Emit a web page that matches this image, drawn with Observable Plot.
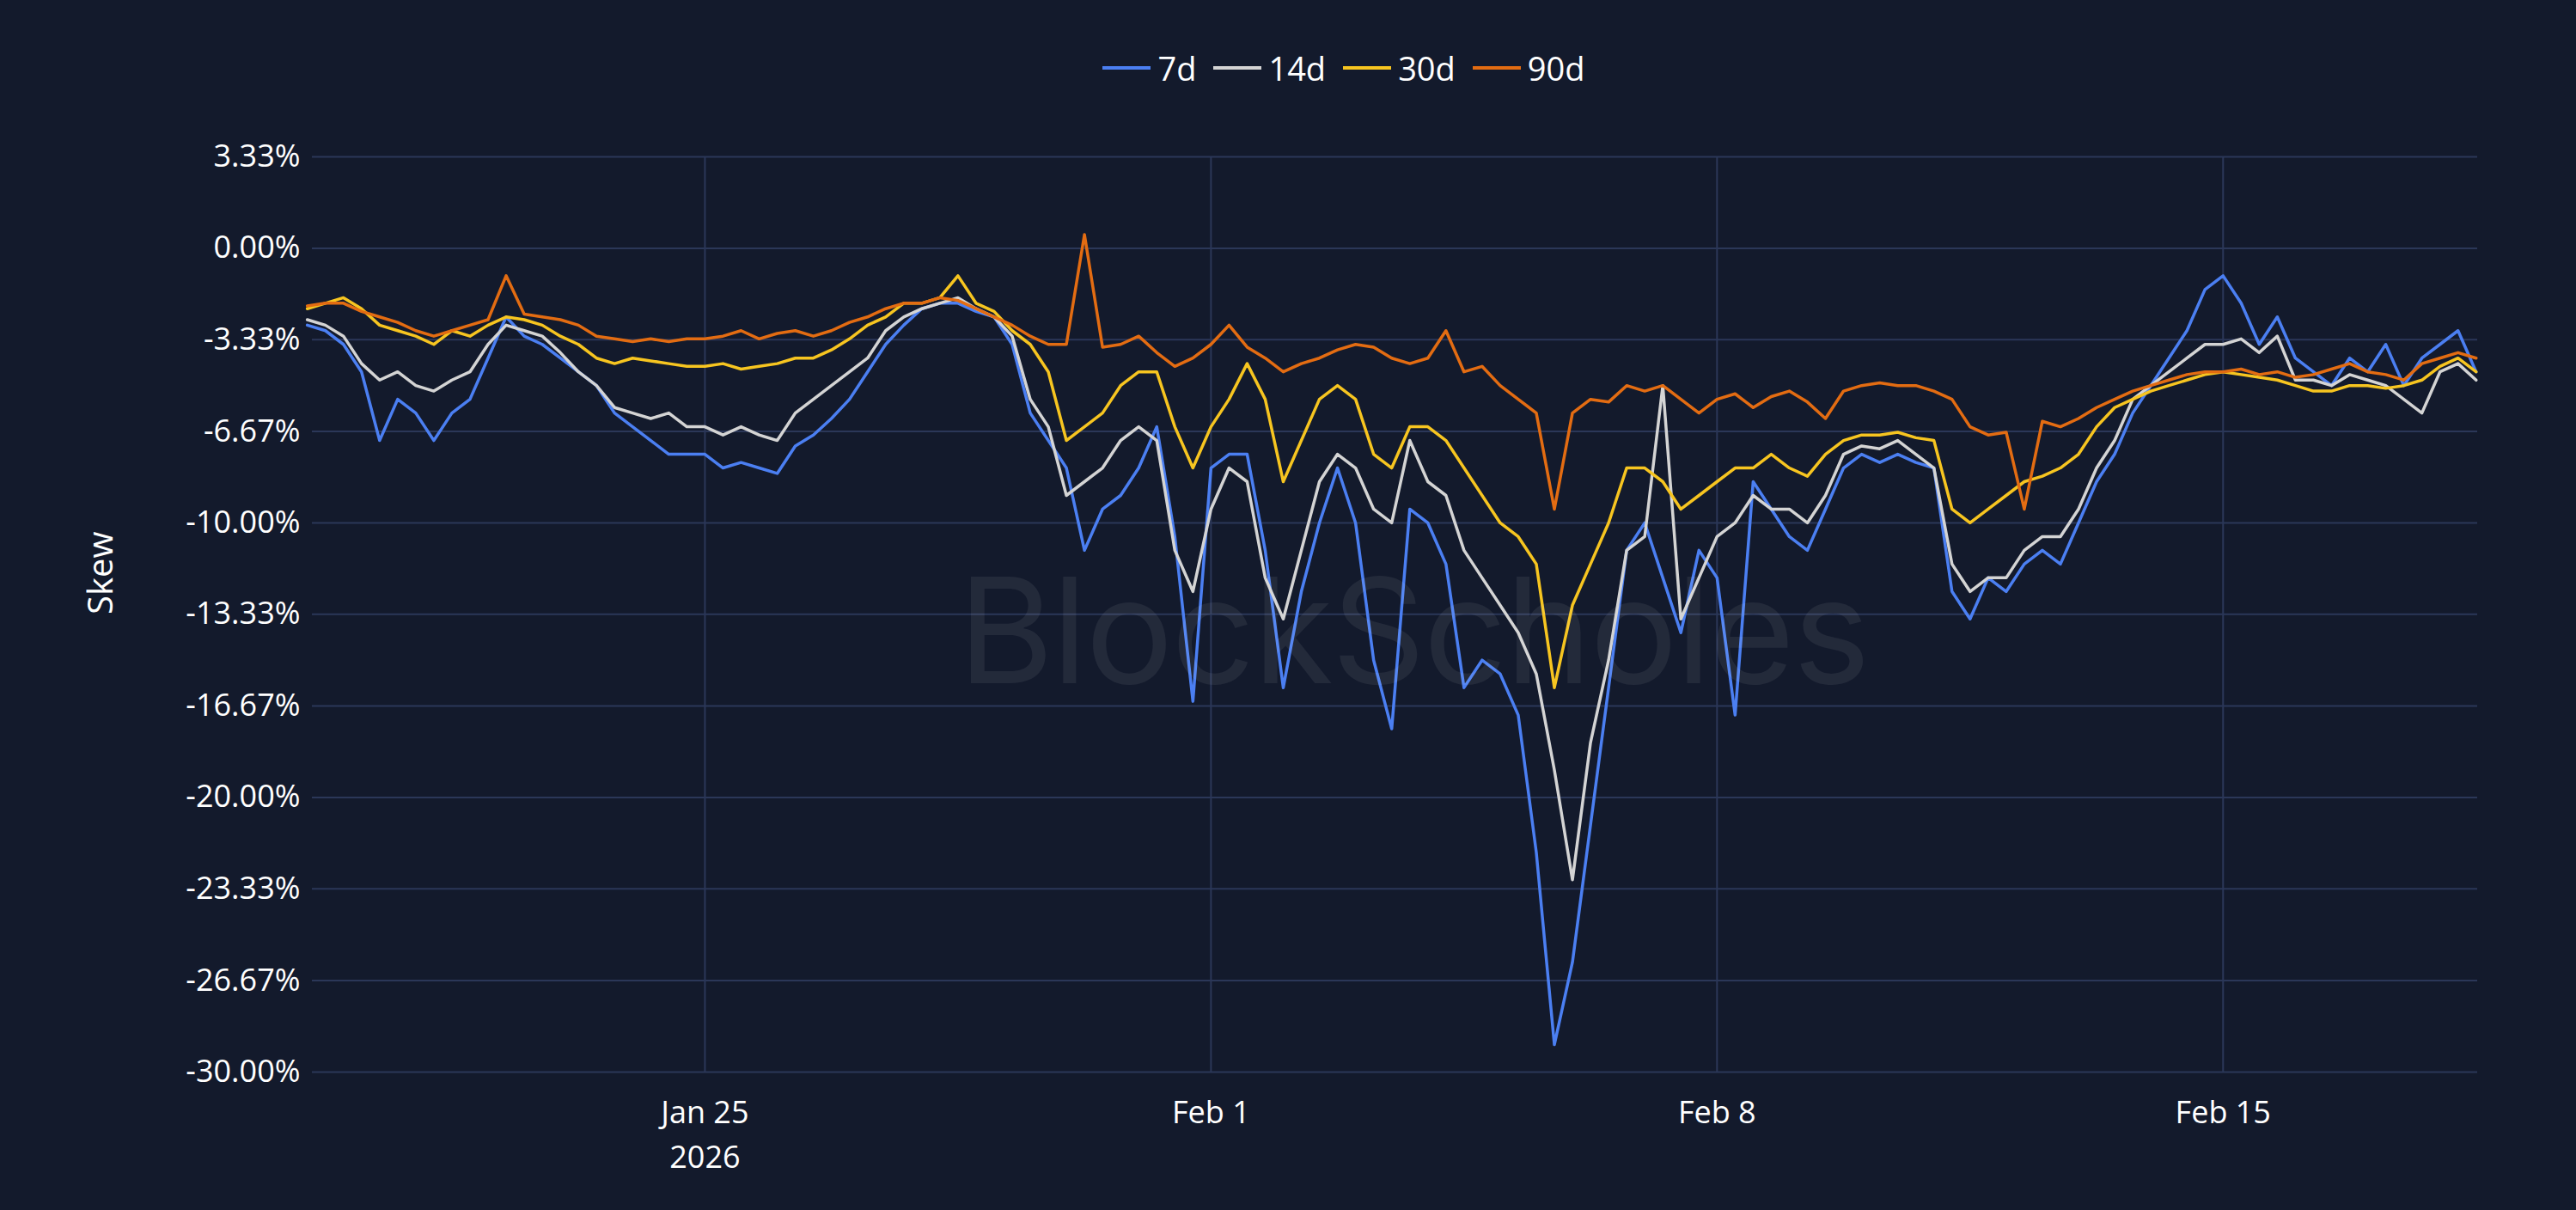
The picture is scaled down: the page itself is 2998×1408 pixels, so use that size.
<!DOCTYPE html>
<html><head><meta charset="utf-8">
<script src="https://cdn.jsdelivr.net/npm/d3@7"></script>
<script src="https://cdn.jsdelivr.net/npm/@observablehq/plot@0.6"></script>
<style>
html,body{margin:0;padding:0;background:#131a2c;width:2998px;height:1408px;overflow:hidden;font-family:"Open Sans",sans-serif;}
#legend{height:150px;display:flex;justify-content:center;align-items:center;gap:20px;color:#fff;font-size:38px;padding-left:130px;padding-top:8px;box-sizing:border-box}
#legend span{display:flex;align-items:center;gap:8px}
#legend i{display:inline-block;width:56px;height:4px}
#wm{position:absolute;left:1115px;top:630px;font-size:170px;color:rgba(255,255,255,0.07);font-family:Inter,sans-serif;letter-spacing:-2px}
</style></head>
<body>
<div id="legend"></div>
<div id="wm">BlockScholes</div>
<div id="chart"></div>
<script>
const seriesNames = ["7d","14d","30d","90d"];
const seriesColors = ["#4b7ff2","#d4d4d4","#f7c520","#e36c12"];
const startTime = "2026-01-19T12:00:00Z"; // 6-hourly samples
const s7d = [-2.8,-3.0,
-3.5,-4.5,-7.0,-5.5, -6.0,-7.0,-6.0,-5.5, -4.0,-2.5,-3.2,-3.5, -4.0,-4.5,-5.0,-6.0,
-6.5,-7.0,-7.5,-7.5, -7.5,-8.0,-7.8,-8.0, -8.2,-7.2,-6.8,-6.2, -5.5,-4.5,-3.5,-2.8,
-2.2,-2.0,-2.0,-2.3, -2.5,-3.5,-6.0,-7.0, -8.0,-11.0,-9.5,-9.0, -8.0,-6.5,-10.5,-16.5,
-8.0,-7.5,-7.5,-11.0, -16.0,-12.5,-10.0,-8.0, -10.0,-15.0,-17.5,-9.5, -10.0,-11.5,-16.0,-15.0,
-15.5,-17.0,-22.0,-29.0, -26.0,-21.0,-16.0,-11.0, -10.0,-12.0,-14.0,-11.0, -12.0,-17.0,-8.5,-9.5,
-10.5,-11.0,-9.5,-8.0, -7.5,-7.8,-7.5,-7.8, -8.0,-12.5,-13.5,-12.0, -12.5,-11.5,-11.0,-11.5,
-10.0,-8.5,-7.5,-6.0, -5.0,-4.0,-3.0,-1.5, -1.0,-2.0,-3.5,-2.5, -4.0,-4.5,-5.0,-4.0,
-4.5,-3.5,-5.0,-4.0, -3.5,-3.0,-4.5];
const s14d = [-2.6,-2.8,
-3.2,-4.2,-4.8,-4.5, -5.0,-5.2,-4.8,-4.5, -3.5,-2.8,-3.0,-3.2, -3.8,-4.5,-5.0,-5.8,
-6.0,-6.2,-6.0,-6.5, -6.5,-6.8,-6.5,-6.8, -7.0,-6.0,-5.5,-5.0, -4.5,-4.0,-3.0,-2.5,
-2.2,-2.0,-1.8,-2.2, -2.5,-3.2,-5.5,-6.5, -9.0,-8.5,-8.0,-7.0, -6.5,-7.0,-11.0,-12.5,
-9.5,-8.0,-8.5,-12.0, -13.5,-11.0,-8.5,-7.5, -8.0,-9.5,-10.0,-7.0, -8.5,-9.0,-11.0,-12.0,
-13.0,-14.0,-15.5,-19.0, -23.0,-18.0,-15.0,-11.0, -10.5,-5.0,-13.5,-12.0, -10.5,-10.0,-9.0,-9.5,
-9.5,-10.0,-9.0,-7.5, -7.2,-7.3,-7.0,-7.5, -8.0,-11.5,-12.5,-12.0, -12.0,-11.0,-10.5,-10.5,
-9.5,-8.0,-7.0,-5.5, -5.0,-4.5,-4.0,-3.5, -3.5,-3.3,-3.8,-3.2, -4.8,-4.8,-5.0,-4.6,
-4.8,-5.0,-5.5,-6.0, -4.5,-4.2,-4.8];
const s30d = [-2.2,-2.0,
-1.8,-2.2,-2.8,-3.0, -3.2,-3.5,-3.0,-3.2, -2.8,-2.5,-2.6,-2.8, -3.2,-3.5,-4.0,-4.2,
-4.0,-4.1,-4.2,-4.3, -4.3,-4.2,-4.4,-4.3, -4.2,-4.0,-4.0,-3.7, -3.3,-2.8,-2.5,-2.0,
-2.0,-1.8,-1.0,-2.0, -2.3,-3.0,-3.5,-4.5, -7.0,-6.5,-6.0,-5.0, -4.5,-4.5,-6.5,-8.0,
-6.5,-5.5,-4.2,-5.5, -8.5,-7.0,-5.5,-5.0, -5.5,-7.5,-8.0,-6.5, -6.5,-7.0,-8.0,-9.0,
-10.0,-10.5,-11.5,-16.0, -13.0,-11.5,-10.0,-8.0, -8.0,-8.5,-9.5,-9.0, -8.5,-8.0,-8.0,-7.5,
-8.0,-8.3,-7.5,-7.0, -6.8,-6.8,-6.7,-6.9, -7.0,-9.5,-10.0,-9.5, -9.0,-8.5,-8.3,-8.0,
-7.5,-6.5,-5.8,-5.5, -5.2,-5.0,-4.8,-4.6, -4.5,-4.6,-4.7,-4.8, -5.0,-5.2,-5.2,-5.0,
-5.0,-5.1,-5.0,-4.8, -4.3,-4.0,-4.5];
const s90d = [-2.1,-2.0,
-2.0,-2.3,-2.5,-2.7, -3.0,-3.2,-3.0,-2.8, -2.6,-1.0,-2.4,-2.5, -2.6,-2.8,-3.2,-3.3,
-3.4,-3.3,-3.4,-3.3, -3.3,-3.2,-3.0,-3.3, -3.1,-3.0,-3.2,-3.0, -2.7,-2.5,-2.2,-2.0,
-2.0,-1.8,-1.9,-2.2, -2.5,-2.8,-3.2,-3.5, -3.5,0.5,-3.6,-3.5, -3.2,-3.8,-4.3,-4.0,
-3.5,-2.8,-3.6,-4.0, -4.5,-4.2,-4.0,-3.7, -3.5,-3.6,-4.0,-4.2, -4.0,-3.0,-4.5,-4.3,
-5.0,-5.5,-6.0,-9.5, -6.0,-5.5,-5.6,-5.0, -5.2,-5.0,-5.5,-6.0, -5.5,-5.3,-5.8,-5.4,
-5.2,-5.6,-6.2,-5.2, -5.0,-4.9,-5.0,-5.0, -5.2,-5.5,-6.5,-6.8, -6.7,-9.5,-6.3,-6.5,
-6.2,-5.8,-5.5,-5.2, -5.0,-4.8,-4.6,-4.5, -4.5,-4.4,-4.6,-4.5, -4.7,-4.6,-4.4,-4.2,
-4.5,-4.6,-4.8,-4.2, -4.0,-3.8,-4.0];
const yTicks = [3.33,0,-3.33,-6.67,-10,-13.33,-16.67,-20,-23.33,-26.67,-30];
const xTicks = ["2026-01-25","2026-02-01","2026-02-08","2026-02-15"];
const xTickLabels = ["Jan 25\n2026","Feb 1","Feb 8","Feb 15"];

const t0 = new Date(startTime).getTime();
const allSeries = [s7d,s14d,s30d,s90d];
const rows = [];
allSeries.forEach((arr,si)=>arr.forEach((v,i)=>rows.push({date:new Date(t0+i*6*3600e3),value:v,series:seriesNames[si]})));
const xt = xTicks.map(d=>new Date(d+"T00:00:00Z"));

document.getElementById("legend").innerHTML = seriesNames.map((n,i)=>`<span><i style="background:${seriesColors[i]}"></i>${n}</span>`).join("");

const chart = Plot.plot({
  width: 2998, height: 1258,
  marginLeft: 363, marginRight: 115, marginTop: 32, marginBottom: 161,
  style:{background:"transparent",color:"#fff",fontSize:"36px",fontFamily:"Open Sans, sans-serif"},
  x:{type:"utc",domain:[new Date("2026-01-19T13:40:00Z"),new Date("2026-02-18T12:30:00Z")],ticks:xt,tickFormat:d=>xTickLabels[xt.findIndex(t=>+t===+d)],tickSize:0,tickPadding:22,label:null},
  y:{domain:[-30,3.33],ticks:yTicks,tickFormat:d=>d.toFixed(2)+"%",tickSize:0,tickPadding:14,label:null},
  color:{domain:seriesNames,range:seriesColors},
  marks:[
    Plot.gridY(yTicks,{stroke:"#2b3758",strokeOpacity:1,strokeWidth:2}),
    Plot.gridX(xt,{stroke:"#2b3758",strokeOpacity:1,strokeWidth:2}),
    Plot.axisY({ticks:yTicks,tickFormat:d=>d.toFixed(2)+"%",tickSize:0,tickPadding:14,fontSize:36,label:null}),
    Plot.axisX({ticks:xt,tickFormat:d=>xTickLabels[xt.findIndex(t=>+t===+d)],tickSize:0,tickPadding:22,fontSize:36,label:null,lineHeight:1.45}),
    Plot.text(["Skew"],{frameAnchor:"left",dx:-245,rotate:-90,fontSize:40,fill:"#fff"}),
    Plot.lineY(rows,{x:"date",y:"value",z:"series",stroke:"series",strokeWidth:3.5,curve:"linear"})
  ]
});
document.getElementById("chart").appendChild(chart);
</script>
</body></html>
